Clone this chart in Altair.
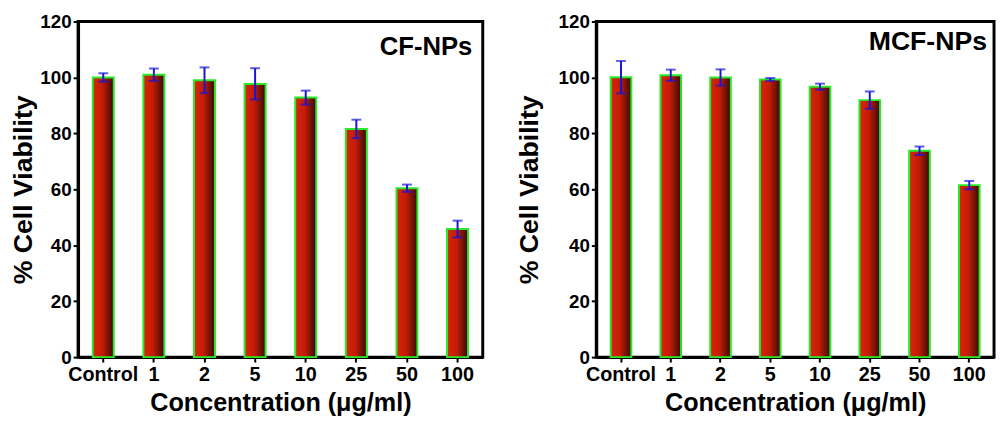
import altair as alt
import pandas as pd

categories = ["Control", "1", "2", "5", "10", "25", "50", "100"]
cf_mean = [100.0, 101.0, 99.0, 97.7, 92.8, 81.6, 60.4, 45.8]
cf_err = [1.5, 2.2, 4.6, 5.6, 2.5, 3.3, 1.3, 3.0]
mcf_mean = [100.1, 100.8, 100.0, 99.3, 96.7, 91.9, 73.8, 61.5]
mcf_err = [5.8, 2.0, 2.9, 0.5, 1.1, 3.1, 1.5, 1.5]
y_ticks = [0, 20, 40, 60, 80, 100, 120]

FONT = "Liberation Sans"
BLUE = "#1616d8"
GREEN = "#28ea28"

bar_fill = alt.LinearGradient(
    gradient="linear",
    stops=[
        alt.GradientStop(color="#d8260c", offset=0),
        alt.GradientStop(color="#c41c06", offset=0.45),
        alt.GradientStop(color="#7e1405", offset=0.72),
        alt.GradientStop(color="#360903", offset=1),
    ],
    x1=0, x2=1, y1=0, y2=0,
)


def panel(mean, err, label, width, height, title_pad, label_y, text_dx, text_size):
    df = pd.DataFrame({
        "c": categories,
        "v": mean,
        "lo": [m - e for m, e in zip(mean, err)],
        "hi": [m + e for m, e in zip(mean, err)],
    })
    base = alt.Chart(df)
    xscale = alt.Scale(paddingInner=0.585, paddingOuter=0.29)
    x = alt.X(
        "c:N", sort=categories, scale=xscale,
        axis=alt.Axis(
            title="Concentration (μg/ml)", labelAngle=0, labelFont=FONT,
            labelFontSize=20, labelFontWeight="bold", labelColor="black",
            titleFont=FONT, titleFontSize=25.5, titleFontWeight="bold",
            titleColor="black", tickSize=5, tickWidth=2, tickColor="black",
            domainColor="black", domainWidth=3, labelPadding=3,
            titlePadding=6,
        ),
    )
    xs = alt.X("c:N", sort=categories, scale=xscale)
    y = alt.Y(
        "v:Q", scale=alt.Scale(domain=[0, 120]),
        axis=alt.Axis(
            title="% Cell Viability", values=y_ticks, grid=False,
            labelFont=FONT, labelFontSize=19, labelFontWeight="bold",
            labelColor="black", titleFont=FONT, titleFontSize=27,
            titleFontWeight="bold", titleColor="black", tickSize=5,
            tickWidth=2, tickColor="black", domainColor="black",
            domainWidth=3, labelPadding=2, titlePadding=title_pad,
        ),
    )
    bars = base.mark_bar(fill=bar_fill, stroke=GREEN, strokeWidth=2).encode(x=x, y=y)
    rule = base.mark_rule(color=BLUE, strokeWidth=2).encode(x=xs, y="lo:Q", y2="hi:Q")
    cap_lo = base.mark_tick(color=BLUE, thickness=2, size=10).encode(x=xs, y="lo:Q")
    cap_hi = base.mark_tick(color=BLUE, thickness=2, size=10).encode(x=xs, y="hi:Q")
    tdf = pd.DataFrame({"c": ["100"], "v": [label_y], "t": [label]})
    text = alt.Chart(tdf).mark_text(
        align="right", baseline="middle", dx=text_dx, font=FONT,
        fontSize=text_size, fontWeight="bold", color="black",
    ).encode(x=xs, y="v:Q", text="t:N")
    return alt.layer(bars, rule, cap_lo, cap_hi, text).properties(width=width, height=height)


left = panel(cf_mean, cf_err, "CF-NPs", 410, 340, 2, 111, 15, 26)
right = panel(mcf_mean, mcf_err, "MCF-NPs", 403, 340, 15, 112.5, 18, 27)

chart = (
    alt.hconcat(left, right, spacing=29)
    .resolve_scale(x="independent", y="independent")
    .properties(padding=0, background="white")
    .configure_view(stroke="black", strokeWidth=3)
)

chart.save("out.html", embed_options={"renderer": "svg", "actions": False})
